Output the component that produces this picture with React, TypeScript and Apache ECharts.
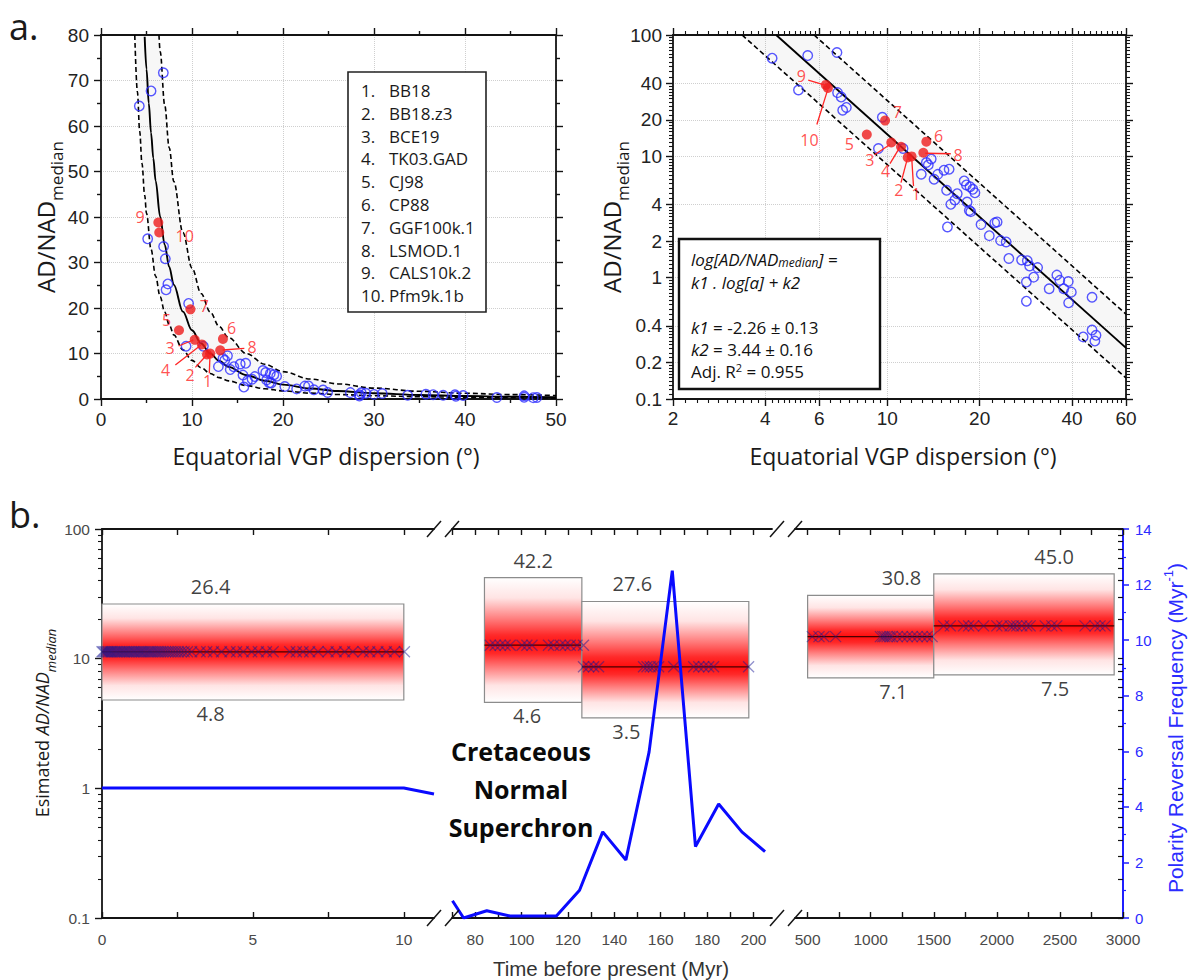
import React, { useEffect, useRef } from 'react';
import * as echarts from 'echarts';

const L = (v: number) => Math.log10(v);

// ---------------- Panel a: data ----------------
const paleoPoints: number[][] = [
  [4.21, 64.4], [5.5, 67.7], [6.85, 71.7], [5.13, 35.2], [6.88, 33.5], [7.07, 30.8], [7.15, 24.0], [7.35, 25.3],
  [9.63, 21.0], [9.35, 11.6], [11.25, 11.6], [12.9, 7.12], [13.4, 8.9], [13.6, 8.5], [13.9, 9.5], [14.2, 6.47],
  [14.6, 7.1], [15.3, 7.69], [15.9, 7.84], [15.6, 5.25], [16.1, 4.02], [16.6, 4.36], [16.9, 4.92], [15.7, 2.62],
  [17.8, 6.27], [18.1, 5.81], [18.6, 5.62], [19.0, 5.35], [19.3, 5.0], [18.2, 4.2], [18.5, 3.58], [18.7, 3.5],
  [20.2, 2.74], [21.5, 2.22], [22.4, 2.83], [22.8, 2.88], [23.4, 2.02], [24.4, 1.97], [24.9, 1.44], [27.4, 1.4],
  [28.6, 1.38], [29.1, 1.25], [30.9, 1.21], [30.0, 1.01], [28.4, 0.92], [28.4, 0.64], [33.7, 0.81], [35.7, 1.05],
  [36.5, 0.95], [37.6, 0.81], [38.9, 0.93], [39.8, 0.76], [39.0, 0.62], [46.5, 0.69], [43.5, 0.325], [46.5, 0.37],
  [47.9, 0.335], [47.5, 0.3],
];
const modelNames = ['BB18', 'BB18.z3', 'BCE19', 'TK03.GAD', 'CJ98', 'CP88', 'GGF100k.1', 'LSMOD.1', 'CALS10k.2', 'Pfm9k.1b'];
const modelPoints: number[][] = [
  [12.0, 9.98], [11.65, 9.8], [10.3, 13.0], [11.08, 12.0], [8.57, 15.1],
  [13.4, 13.2], [9.83, 19.7], [13.1, 10.7], [6.3, 38.8], [6.4, 36.6],
];
const fitCurveLin: number[][] = [
  [4.8, 79.6], [5, 72.5], [5.25, 65.0], [5.5, 58.5], [5.75, 52.9], [6, 48.0], [6.5, 40.1], [7, 33.9], [7.5, 29.0],
  [8, 25.1], [9, 19.2], [10, 15.1], [11, 12.2], [12, 10.0], [13, 8.36], [14, 7.07], [16, 5.23], [18, 4.01],
  [20, 3.16], [23, 2.3], [26, 1.75], [30, 1.26], [35, 0.89], [40, 0.66], [45, 0.51], [50, 0.4],
];
const upperCurveLin: number[][] = [
  [6.37, 80], [6.5, 76.4], [7, 64.6], [7.5, 55.2], [8, 47.8], [9, 36.6], [10, 28.8], [11, 23.2], [12, 19.1],
  [13, 15.9], [14, 13.5], [16, 9.96], [18, 7.64], [20, 6.02], [23, 4.38], [26, 3.33], [30, 2.4], [35, 1.7],
  [40, 1.26], [45, 0.97], [50, 0.76],
];
const lowerCurveLin: number[][] = [
  [3.71, 80], [4, 67.5], [4.25, 58.9], [4.5, 51.8], [4.8, 44.8], [5, 40.8], [5.5, 32.9], [6, 27.0], [6.5, 22.5],
  [7, 19.1], [7.5, 16.3], [8, 14.1], [9, 10.8], [10, 8.49], [11, 6.86], [12, 5.62], [13, 4.7], [14, 3.98],
  [16, 2.94], [18, 2.25], [20, 1.78], [23, 1.29], [26, 0.98], [30, 0.71], [35, 0.5], [40, 0.37], [45, 0.29], [50, 0.22],
];
const fitLineLog: number[][] = [[4.34, 100], [60, 0.264]];
const upperLineLog: number[][] = [[5.77, 100], [60, 0.5]];
const lowerLineLog: number[][] = [[3.36, 100], [60, 0.149]];

// label anchors (number, x, y) and leader lines (x1, y1, x2, y2)
const labelPosLin: number[][] = [
  [1, 11.7, 4.0], [2, 9.8, 5.3], [3, 7.6, 11.3], [4, 7.1, 6.4], [5, 7.2, 17.3],
  [6, 14.36, 15.5], [7, 11.36, 20.4], [8, 16.6, 11.5], [9, 4.29, 39.9], [10, 9.2, 35.9],
];
const leaderLin: number[][] = [
  [8.53, 11.65, 10.15, 12.97], [8.17, 7.47, 10.99, 11.87], [10.37, 6.96, 11.61, 9.67],
  [11.9, 5.65, 11.98, 9.67], [15.75, 11.14, 13.37, 10.77],
];
const labelPosLog: number[][] = [
  [1, 12.4, 4.92], [2, 10.89, 5.25], [3, 8.77, 9.3], [4, 9.86, 7.6], [5, 7.51, 12.6],
  [6, 14.7, 14.8], [7, 10.77, 23.1], [8, 17.0, 10.3], [9, 5.24, 45.7], [10, 5.57, 13.6],
];
const leaderLog: number[][] = [
  [5.52, 42.4, 6.3, 38.5], [5.89, 18.3, 6.4, 36], [9.08, 10.3, 10.2, 12.5], [10.2, 8.7, 10.99, 11.9],
  [11.08, 6.07, 11.65, 9.8], [12.17, 5.7, 12.0, 9.8], [16.1, 10.5, 13.3, 10.6],
];

const linXTicks = [0, 10, 20, 30, 40, 50];
const logXMajor = [2, 4, 6, 10, 20, 40, 60];
const logYMajor = [0.1, 0.2, 0.4, 1, 2, 4, 10, 20, 40, 100];

// ---------------- Panel b: data ----------------
// [startAge, endAge, lower, upper, median]
const ageBoxes: number[][] = [
  [0, 10, 4.8, 26.4, 11.3],
  [84, 126, 4.6, 42.2, 12.7],
  [126, 198, 3.5, 27.6, 8.65],
  [500, 1500, 7.1, 30.8, 14.8],
  [1500, 2930, 7.5, 45.0, 17.9],
];
// x positions of the upper / lower value labels
const boxLabelX: number[][] = [[3.6, 3.6], [105, 102.4], [147.8, 145.2], [1244, 1180], [2454, 2462]];
const ages0to10 = [
  0, 0.04, 0.09, 0.13, 0.18, 0.22, 0.27, 0.31, 0.36, 0.42, 0.47, 0.52, 0.58, 0.63, 0.69, 0.74, 0.8, 0.86, 0.91,
  0.97, 1.03, 1.08, 1.14, 1.2, 1.26, 1.31, 1.37, 1.43, 1.5, 1.56, 1.62, 1.68, 1.75, 1.82, 1.88, 1.95, 2.02, 2.1,
  2.18, 2.26, 2.35, 2.44, 2.53, 2.62, 2.72, 2.83, 2.97, 3.25, 3.47, 3.69, 3.96, 4.24, 4.46, 4.68, 4.96, 5.18,
  5.45, 5.67, 6.22, 6.44, 6.66, 6.88, 7.16, 7.49, 7.76, 8.04, 8.31, 8.65, 8.87, 9.14, 9.42, 9.69, 10.02,
];
const ages84to126 = [86.5, 88.6, 90.8, 92.9, 95.1, 100.2, 102.3, 104.5, 111.6, 113.8, 116.7, 118.8, 121, 123.9, 126.7];
const ages126to198 = [126.7, 128.9, 131.1, 133.2, 152.6, 154.1, 155.5, 156.9, 159.1, 165.6, 174.2, 176.4, 178.5, 180.7, 182.8, 197.9];
const ages500to1500 = [537, 590, 629, 722, 1077, 1096, 1111, 1130, 1151, 1170, 1210, 1250, 1289, 1329, 1368, 1408, 1447, 1487];
const ages1500to2930 = [1578, 1631, 1736, 1776, 1815, 1895, 2000, 2040, 2105, 2131, 2158, 2198, 2237, 2264, 2383, 2436, 2475, 2699, 2778, 2818, 2858];
const reversalRecent: number[][] = [[0, 4.68], [10, 4.68], [11, 4.46]];
const reversalMesozoic: number[][] = [
  [70.2, 0.62], [75, 0], [85, 0.26], [95, 0.07], [115, 0.07], [125, 1.0], [135, 3.1], [145, 2.09],
  [155, 5.98], [165, 12.5], [175, 2.57], [185, 4.1], [195, 3.1], [205, 2.39],
];
const seg1Labels = [0, 5, 10];
const seg1Ticks = [0, 2.5, 5, 7.5, 10];
const seg2Labels = [80, 100, 120, 140, 160, 180, 200];
const seg2Ticks = [70, 80, 90, 100, 110, 120, 130, 140, 150, 160, 170, 180, 190, 200];
const seg3Labels = [500, 1000, 1500, 2000, 2500, 3000];
const seg3Ticks = [500, 750, 1000, 1250, 1500, 1750, 2000, 2250, 2500, 2750, 3000];
const bLogMajor = [0.1, 1, 10, 100];

// ---------------- helpers ----------------
const FONT = "'Open Sans', 'DejaVu Sans', sans-serif";
const AFONT = "'Liberation Sans', Arial, sans-serif";
const BLK = '#141414';
const RED = '#ff2424';

function between(a: number, b: number, s: number) {
  const out: number[] = [];
  for (let v = a + s; v < b - s * 0.01; v += s) out.push(Math.round(v * 10000) / 10000);
  return out;
}
const logXMinor = [...between(2, 4, 0.2), ...between(4, 6, 0.2), ...between(6, 10, 0.5), ...between(10, 20, 1), ...between(20, 40, 2), ...between(40, 60, 2)];
const logYMinor = [
  ...between(0.1, 0.2, 0.01), ...between(0.2, 0.4, 0.02), ...between(0.4, 1, 0.05), ...between(1, 2, 0.1),
  ...between(2, 4, 0.2), ...between(4, 10, 0.5), ...between(10, 20, 1), ...between(20, 40, 2), ...between(40, 100, 5),
];
const bLogMinor: number[] = [];
[0.1, 1, 10].forEach((d) => [2, 3, 4, 5, 6, 7, 8, 9].forEach((m) => bLogMinor.push(d * m)));

function fmtLog(v: number) {
  const r = Math.pow(10, v);
  if (r < 0.999) return r.toFixed(1);
  return String(Math.round(r));
}
const plain = (v: number) => String(v);

const lineBlk = { show: true, onZero: false, lineStyle: { color: BLK, width: 1.8 } };
const noLine = { show: false, onZero: false };
const tickStyle = { color: BLK, width: 1.4 };
const dotted = { show: true, lineStyle: { color: '#cfcfcf', type: 'dotted', width: 1 } };

function axis(o: any) {
  return {
    type: 'value',
    axisLine: lineBlk,
    axisTick: { show: false },
    minorTick: { show: false },
    axisLabel: { show: false },
    splitLine: { show: false },
    minorSplitLine: { show: false },
    ...o,
  };
}

function bandSeries(xi: number, yi: number, pts: number[][]) {
  return {
    type: 'custom', xAxisIndex: xi, yAxisIndex: yi, silent: true, z: 1, clip: true,
    data: [[pts[0][0], pts[0][1]]],
    renderItem: (_p: any, api: any) => ({
      type: 'polygon',
      shape: { points: pts.map((p) => api.coord(p)) },
      style: { fill: 'rgba(0,0,0,0.03)' },
    }),
  };
}

function lineSeries(xi: number, yi: number, data: number[][], dashed: boolean, smooth: boolean) {
  return {
    type: 'line', xAxisIndex: xi, yAxisIndex: yi, data, symbol: 'none', silent: true, z: 3,
    smooth: smooth ? 0.35 : false, smoothMonotone: 'x',
    lineStyle: { color: '#000', width: dashed ? 1.6 : 1.9, type: dashed ? [5, 3] : 'solid' },
  };
}

function boxSeries(xi: number, yi: number, boxes: number[][]) {
  return {
    type: 'custom', xAxisIndex: xi, yAxisIndex: yi, z: 2, silent: true, clip: false,
    data: boxes.map((b) => [b[0], b[1], L(b[2]), L(b[3]), L(b[4])]),
    encode: { x: [0, 1], y: [2, 3, 4] },
    renderItem: (_p: any, api: any) => {
      const x0 = api.value(0), x1 = api.value(1), lo = api.value(2), hi = api.value(3), md = api.value(4);
      const a = api.coord([x0, hi]);
      const b = api.coord([x1, lo]);
      const m = api.coord([x0, md]);
      const h = b[1] - a[1];
      const f = (m[1] - a[1]) / h;
      const up = (t: number) => f * t;
      const dn = (t: number) => f + (1 - f) * t;
      const stops = [
        { offset: 0, color: '#ffffff' },
        { offset: up(0.3), color: '#ffe4e4' },
        { offset: up(0.62), color: '#ff7a7a' },
        { offset: up(0.85), color: '#ff2a2a' },
        { offset: f, color: '#ff0d0d' },
        { offset: dn(0.15), color: '#ff2a2a' },
        { offset: dn(0.38), color: '#ff7a7a' },
        { offset: dn(0.7), color: '#ffe4e4' },
        { offset: 1, color: '#ffffff' },
      ];
      return {
        type: 'group',
        children: [
          {
            type: 'rect',
            shape: { x: a[0], y: a[1], width: b[0] - a[0], height: h },
            style: { fill: { type: 'linear', x: 0, y: 0, x2: 0, y2: 1, colorStops: stops }, stroke: '#8c8c8c', lineWidth: 1.2 },
          },
          {
            type: 'line',
            shape: { x1: a[0], y1: m[1], x2: b[0], y2: m[1] },
            style: { stroke: '#4a0000', lineWidth: 1.3 },
          },
        ],
      };
    },
  };
}

const XSYM = 'path://M0,0L10,10M10,0L0,10';

function markerSeries(xi: number, yi: number, ages: number[], median: number) {
  return {
    type: 'scatter', xAxisIndex: xi, yAxisIndex: yi, silent: true, z: 4,
    data: ages.map((a) => [a, L(median)]),
    symbol: XSYM, symbolSize: 11,
    itemStyle: { color: 'rgba(0,0,0,0)', borderColor: 'rgba(25,25,150,0.6)', borderWidth: 1.3 },
  };
}

function boxLabelSeries(xi: number, yi: number, idx: number[]) {
  const data: any[] = [];
  idx.forEach((i) => {
    const b = ageBoxes[i];
    data.push({ value: [boxLabelX[i][0], L(b[3])], name: b[3].toFixed(1), label: { position: 'top', distance: 7 } });
    data.push({ value: [boxLabelX[i][1], L(b[2])], name: b[2].toFixed(1), label: { position: 'bottom', distance: 3 } });
  });
  return {
    type: 'scatter', xAxisIndex: xi, yAxisIndex: yi, silent: true, z: 6, symbolSize: 1,
    itemStyle: { color: 'rgba(0,0,0,0)' },
    data,
    label: { show: true, formatter: '{b}', color: '#0d0d0d', fontSize: 20, fontFamily: FONT },
  };
}

function redLabelSeries(xi: number, yi: number, pos: number[][], tf: (v: number) => number) {
  return {
    type: 'scatter', xAxisIndex: xi, yAxisIndex: yi, silent: true, z: 7, symbolSize: 1,
    itemStyle: { color: 'rgba(0,0,0,0)' },
    data: pos.map((p) => ({ value: [tf(p[1]), tf(p[2])], name: String(p[0]) })),
    label: { show: true, position: 'inside', formatter: '{b}', color: RED, fontSize: 16, lineHeight: 17, fontFamily: FONT },
  };
}

function leaderSeries(xi: number, yi: number, segs: number[][], tf: (v: number) => number) {
  return {
    type: 'lines', coordinateSystem: 'cartesian2d', xAxisIndex: xi, yAxisIndex: yi, silent: true, z: 6,
    data: segs.map((s) => ({ coords: [[tf(s[0]), tf(s[1])], [tf(s[2]), tf(s[3])]] })),
    lineStyle: { color: RED, width: 1.3, opacity: 1 },
  };
}

function pointSeries(xi: number, yi: number, tf: (v: number) => number) {
  return [
    {
      type: 'scatter', xAxisIndex: xi, yAxisIndex: yi, silent: true, z: 4,
      data: paleoPoints.map((p) => [tf(p[0]), tf(p[1])]),
      symbol: 'circle', symbolSize: 9.5,
      itemStyle: { color: 'rgba(0,0,0,0)', borderColor: '#2d2dff', borderWidth: 1.4 },
    },
    {
      type: 'scatter', xAxisIndex: xi, yAxisIndex: yi, silent: true, z: 5,
      data: modelPoints.map((p, i) => ({ value: [tf(p[0]), tf(p[1])], name: modelNames[i] })),
      symbol: 'circle', symbolSize: 10,
      itemStyle: { color: '#ee1b1b' },
    },
  ];
}

function txt(x: number, y: number, text: string, o: any = {}, rot = 0): any {
  const { align = 'center', vAlign = 'middle', ...rest } = o;
  return {
    type: 'text', x, y, rotation: rot, z: 20,
    style: {
      text, align, verticalAlign: vAlign, textAlign: align, textVerticalAlign: vAlign,
      fill: '#1a1a1a', fontSize: 16, fontFamily: FONT, ...rest,
    },
  };
}

function slash(cx: number, cy: number) {
  return { type: 'line', z: 20, shape: { x1: cx - 7, y1: cy + 8, x2: cx + 7, y2: cy - 8 }, style: { stroke: BLK, lineWidth: 1.5 } };
}

function buildOption() {
  const id = (v: number) => v;
  const tickLbl = { color: '#222', fontSize: 19, fontFamily: AFONT };
  const bLbl = { color: '#4a4a4a', fontSize: 15.5, fontFamily: AFONT };

  const grid = [
    { left: 101, top: 35, width: 455, height: 364 },
    { left: 673, top: 35, width: 453, height: 364 },
    { left: 102, top: 529, width: 332, height: 389 },
    { left: 452, top: 529, width: 320, height: 389 },
    { left: 795, top: 529, width: 328, height: 389 },
  ];

  const linTick = { show: true, inside: false, length: 7, lineStyle: tickStyle };
  const linMinor = { show: true, splitNumber: 2, length: 4, lineStyle: tickStyle };

  const xAxis: any[] = [
    // 0,1 panel a-left
    axis({ gridIndex: 0, position: 'bottom', min: 0, max: 50, interval: 10, axisTick: linTick, minorTick: linMinor,
      axisLabel: { show: true, ...tickLbl, margin: 11, customValues: linXTicks }, splitLine: dotted }),
    axis({ gridIndex: 0, position: 'top', min: 0, max: 50, interval: 10, axisTick: linTick, minorTick: linMinor }),
    // 2-5 panel a-right
    axis({ gridIndex: 1, position: 'bottom', min: L(2), max: L(60),
      axisTick: { show: true, length: 7, lineStyle: tickStyle, customValues: logXMajor.map(L) },
      axisLabel: { show: true, ...tickLbl, margin: 10, customValues: logXMajor.map(L), formatter: fmtLog },
      splitLine: dotted }),
    axis({ gridIndex: 1, position: 'bottom', min: L(2), max: L(60), axisLine: noLine,
      axisTick: { show: true, length: 4, lineStyle: { color: BLK, width: 1.1 }, customValues: logXMinor.map(L) } }),
    axis({ gridIndex: 1, position: 'top', min: L(2), max: L(60),
      axisTick: { show: true, length: 7, lineStyle: tickStyle, customValues: logXMajor.map(L) } }),
    axis({ gridIndex: 1, position: 'top', min: L(2), max: L(60), axisLine: noLine,
      axisTick: { show: true, length: 4, lineStyle: { color: BLK, width: 1.1 }, customValues: logXMinor.map(L) } }),
    // 6,7 seg 1
    axis({ gridIndex: 2, position: 'bottom', min: 0, max: 11,
      axisTick: { show: true, inside: true, length: 6, lineStyle: tickStyle, customValues: seg1Ticks },
      axisLabel: { show: true, ...bLbl, margin: 13, customValues: seg1Labels, formatter: plain } }),
    axis({ gridIndex: 2, position: 'top', min: 0, max: 11,
      axisTick: { show: true, inside: true, length: 6, lineStyle: tickStyle, customValues: seg1Ticks } }),
    // 8,9 seg 2
    axis({ gridIndex: 3, position: 'bottom', min: 70, max: 208,
      axisTick: { show: true, inside: true, length: 6, lineStyle: tickStyle, customValues: seg2Ticks },
      axisLabel: { show: true, ...bLbl, margin: 13, customValues: seg2Labels, formatter: plain } }),
    axis({ gridIndex: 3, position: 'top', min: 70, max: 208,
      axisTick: { show: true, inside: true, length: 6, lineStyle: tickStyle, customValues: seg2Ticks } }),
    // 10,11 seg 3
    axis({ gridIndex: 4, position: 'bottom', min: 400, max: 3000,
      axisTick: { show: true, inside: true, length: 6, lineStyle: tickStyle, customValues: seg3Ticks },
      axisLabel: { show: true, ...bLbl, margin: 13, customValues: seg3Labels, formatter: plain } }),
    axis({ gridIndex: 4, position: 'top', min: 400, max: 3000,
      axisTick: { show: true, inside: true, length: 6, lineStyle: tickStyle, customValues: seg3Ticks } }),
  ];

  const yAxis: any[] = [
    // 0,1 panel a-left
    axis({ gridIndex: 0, position: 'left', min: 0, max: 80, interval: 10, axisTick: linTick, minorTick: linMinor,
      axisLabel: { show: true, ...tickLbl, margin: 12 }, splitLine: dotted }),
    axis({ gridIndex: 0, position: 'right', min: 0, max: 80, interval: 10, axisTick: linTick, minorTick: linMinor }),
    // 2-5 panel a-right
    axis({ gridIndex: 1, position: 'left', min: -1, max: 2,
      axisTick: { show: true, length: 7, lineStyle: tickStyle, customValues: logYMajor.map(L) },
      axisLabel: { show: true, ...tickLbl, margin: 11, customValues: logYMajor.map(L), formatter: fmtLog },
      splitLine: dotted }),
    axis({ gridIndex: 1, position: 'left', min: -1, max: 2, axisLine: noLine,
      axisTick: { show: true, length: 4, lineStyle: { color: BLK, width: 1.1 }, customValues: logYMinor.map(L) } }),
    axis({ gridIndex: 1, position: 'right', min: -1, max: 2,
      axisTick: { show: true, length: 7, lineStyle: tickStyle, customValues: logYMajor.map(L) } }),
    axis({ gridIndex: 1, position: 'right', min: -1, max: 2, axisLine: noLine,
      axisTick: { show: true, length: 4, lineStyle: { color: BLK, width: 1.1 }, customValues: logYMinor.map(L) } }),
    // 6,7,8 seg 1
    axis({ gridIndex: 2, position: 'left', min: -1, max: 2,
      axisTick: { show: true, length: 7, lineStyle: tickStyle, customValues: bLogMajor.map(L) },
      axisLabel: { show: true, ...bLbl, margin: 12, customValues: bLogMajor.map(L), formatter: fmtLog } }),
    axis({ gridIndex: 2, position: 'left', min: -1, max: 2, axisLine: noLine,
      axisTick: { show: true, length: 4, lineStyle: { color: BLK, width: 1.1 }, customValues: bLogMinor.map(L) } }),
    axis({ gridIndex: 2, position: 'right', min: 0, max: 14, show: false }),
    // 9,10 seg 2
    axis({ gridIndex: 3, position: 'left', min: -1, max: 2, show: false }),
    axis({ gridIndex: 3, position: 'right', min: 0, max: 14, show: false }),
    // 11,12 seg 3
    axis({ gridIndex: 4, position: 'right', min: -1, max: 2, axisLine: noLine,
      axisTick: { show: true, inside: true, length: 5, lineStyle: { color: BLK, width: 1.2 }, customValues: [...bLogMajor, ...bLogMinor].map(L) } }),
    axis({ gridIndex: 4, position: 'right', min: 0, max: 14, interval: 2,
      axisLine: { show: true, onZero: false, lineStyle: { color: '#1f1fff', width: 2 } },
      axisTick: { show: true, inside: false, length: 6, lineStyle: { color: '#1f1fff', width: 1.5 } },
      minorTick: { show: true, splitNumber: 2, length: 3, lineStyle: { color: '#1f1fff', width: 1.2 } },
      axisLabel: { show: true, color: '#2b2bff', fontSize: 15, fontFamily: AFONT, margin: 12 } }),
  ];

  const bandLin = [...upperCurveLin, ...lowerCurveLin.slice().reverse()];
  const bandLog = [[L(3.36), L(100)], [L(5.77), L(100)], [L(60), L(0.5)], [L(60), L(0.149)]];
  const logPts = (arr: number[][]) => arr.map((p) => [L(p[0]), L(p[1])]);

  const series: any[] = [
    // panel a-left
    bandSeries(0, 0, bandLin),
    lineSeries(0, 0, fitCurveLin, false, true),
    lineSeries(0, 0, upperCurveLin, true, true),
    lineSeries(0, 0, lowerCurveLin, true, true),
    ...pointSeries(0, 0, id),
    leaderSeries(0, 0, leaderLin, id),
    redLabelSeries(0, 0, labelPosLin, id),
    // panel a-right
    bandSeries(2, 2, bandLog),
    lineSeries(2, 2, logPts(fitLineLog), false, false),
    lineSeries(2, 2, logPts(upperLineLog), true, false),
    lineSeries(2, 2, logPts(lowerLineLog), true, false),
    ...pointSeries(2, 2, L),
    leaderSeries(2, 2, leaderLog, L),
    redLabelSeries(2, 2, labelPosLog, L),
    // panel b
    boxSeries(6, 6, [ageBoxes[0]]),
    boxSeries(8, 9, [ageBoxes[1], ageBoxes[2]]),
    boxSeries(10, 11, [ageBoxes[3], ageBoxes[4]]),
    markerSeries(6, 6, ages0to10, ageBoxes[0][4]),
    markerSeries(8, 9, ages84to126, ageBoxes[1][4]),
    markerSeries(8, 9, ages126to198, ageBoxes[2][4]),
    markerSeries(10, 11, ages500to1500, ageBoxes[3][4]),
    markerSeries(10, 11, ages1500to2930, ageBoxes[4][4]),
    boxLabelSeries(6, 6, [0]),
    boxLabelSeries(8, 9, [1, 2]),
    boxLabelSeries(10, 11, [3, 4]),
    {
      type: 'line', xAxisIndex: 6, yAxisIndex: 8, data: reversalRecent, symbol: 'none', silent: true, z: 8, clip: false,
      lineStyle: { color: '#0a0aff', width: 3 },
    },
    {
      type: 'line', xAxisIndex: 8, yAxisIndex: 10, data: reversalMesozoic, symbol: 'none', silent: true, z: 8,
      lineStyle: { color: '#0a0aff', width: 3 },
    },
  ];

  const sub = { fontSize: 17, fontFamily: FONT, verticalAlign: 'bottom', lineHeight: 17, fill: '#1a1a1a', color: '#1a1a1a' };
  const big = { fontSize: 24, fontFamily: FONT, lineHeight: 40, verticalAlign: 'middle', fill: '#1a1a1a', color: '#1a1a1a' };
  const it = { fontSize: 17, fontStyle: 'italic', fontFamily: FONT, lineHeight: 19, verticalAlign: 'middle', fill: '#111', color: '#111' };
  const nm = { fontSize: 17, fontFamily: FONT, lineHeight: 19, verticalAlign: 'middle', fill: '#111', color: '#111' };
  const itSub = { fontSize: 12, fontStyle: 'italic', fontFamily: FONT, lineHeight: 10, verticalAlign: 'bottom', fill: '#111', color: '#111' };
  const sup = { fontSize: 11, fontFamily: FONT, lineHeight: 10, verticalAlign: 'top', fill: '#111', color: '#111' };

  const graphic: any[] = [
    txt(9, 26, 'a.', { fontSize: 36, lineHeight: 36, align: 'left' }),
    txt(9, 514, 'b.', { fontSize: 36, lineHeight: 36, align: 'left' }),
    // axis titles, panel a
    txt(326, 456, 'Equatorial VGP dispersion (°)', { fontSize: 23 }),
    txt(903, 456, 'Equatorial VGP dispersion (°)', { fontSize: 23 }),
    txt(45, 217, '{a|AD/NAD}{b|median}', { rich: { a: big, b: sub } }, Math.PI / 2),
    txt(611, 217, '{a|AD/NAD}{b|median}', { rich: { a: big, b: sub } }, Math.PI / 2),
    // legend box
    { type: 'rect', z: 15, shape: { x: 348, y: 72, width: 138, height: 240 }, style: { fill: '#fff', stroke: '#222', lineWidth: 1.6 } },
    txt(361, 79, modelNames.map((_, i) => `${i + 1}.`).join('\n'), { align: 'left', vAlign: 'top', fontSize: 17, lineHeight: 22.8 }),
    txt(389, 79, modelNames.join('\n'), { align: 'left', vAlign: 'top', fontSize: 17, lineHeight: 22.8 }),
    // fit box
    { type: 'rect', z: 15, shape: { x: 679, y: 239, width: 201, height: 150 }, style: { fill: '#fff', stroke: '#111', lineWidth: 2.4 } },
    txt(691, 259, '{i|log[AD/NAD}{s|median}{i|] =}', { align: 'left', rich: { i: it, s: itSub } }),
    txt(691, 282, '{i|k1 . log[a] + k2}', { align: 'left', rich: { i: it } }),
    txt(691, 327, '{i|k1}{n| = -2.26 ± 0.13}', { align: 'left', rich: { i: it, n: nm } }),
    txt(691, 349, '{i|k2}{n| = 3.44 ± 0.16}', { align: 'left', rich: { i: it, n: nm } }),
    txt(691, 371, '{n|Adj. R}{p|2}{n| = 0.955}', { align: 'left', rich: { n: nm, p: sup } }),
    // panel b titles
    txt(42, 723, '{n|Esimated }{i|AD/NAD}{s|median}', {
      rich: {
        n: { fontSize: 18, fontFamily: FONT, lineHeight: 30, verticalAlign: 'middle', fill: '#1a1a1a', color: '#1a1a1a' },
        i: { fontSize: 18, fontStyle: 'italic', fontFamily: FONT, lineHeight: 30, verticalAlign: 'middle', fill: '#1a1a1a', color: '#1a1a1a' },
        s: { fontSize: 13, fontStyle: 'italic', fontFamily: FONT, lineHeight: 14, verticalAlign: 'bottom', fill: '#1a1a1a', color: '#1a1a1a' },
      },
    }, Math.PI / 2),
    txt(611, 968, 'Time before present (Myr)', { fontSize: 20.5, fill: '#333', fontFamily: AFONT }),
    txt(1175, 728, '{n|Polarity Reversal Frequency (Myr}{p|-1}{n|)}', {
      rich: {
        n: { fontSize: 21, fontFamily: AFONT, lineHeight: 26, verticalAlign: 'middle', fill: '#2b2bff', color: '#2b2bff' },
        p: { fontSize: 13, fontFamily: AFONT, lineHeight: 14, verticalAlign: 'top', fill: '#2b2bff', color: '#2b2bff' },
      },
    }, Math.PI / 2),
    txt(521, 789, 'Cretaceous\nNormal\nSuperchron', { fontSize: 25, fontWeight: 'bold', lineHeight: 38, fill: '#0a0a0a' }),
    // axis breaks
    slash(434, 529), slash(452, 529), slash(434, 918), slash(452, 918),
    slash(777, 529), slash(795, 529), slash(777, 918), slash(795, 918),
  ];

  return { animation: false, backgroundColor: '#fff', grid, xAxis, yAxis, series, graphic };
}

export default function App() {
  const ref = useRef<HTMLDivElement>(null);
  useEffect(() => {
    const chart = echarts.init(ref.current as HTMLDivElement, undefined, { renderer: 'svg' });
    chart.setOption(buildOption() as any);
    return () => chart.dispose();
  }, []);
  return <div ref={ref} style={{ position: 'fixed', left: 0, top: 0, width: 1189, height: 980, background: '#fff' }} />;
}
